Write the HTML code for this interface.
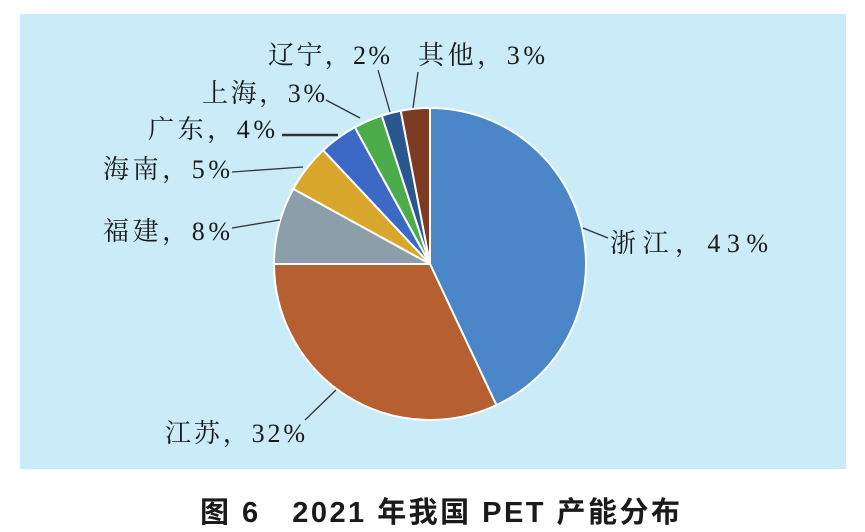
<!DOCTYPE html>
<html><head><meta charset="utf-8"><style>
body{margin:0;width:865px;height:532px;background:#fff;overflow:hidden}
svg{display:block}
.t{font-family:"Liberation Serif","Noto Serif CJK SC",serif;font-size:26px;fill:#1a1a1a}
.c{font-family:"Liberation Sans","Noto Sans CJK SC",sans-serif;font-size:29px;font-weight:bold;fill:#1a1a1a}
</style></head><body>
<svg width="865" height="532" id="s">
<rect x="20" y="14" width="826" height="455" fill="#c9ecf8"/>
<g id="pie"></g>
<g stroke="#333" stroke-width="1.3" fill="none">
<line x1="378" y1="70" x2="390" y2="112"/>
<line x1="418" y1="72" x2="413" y2="108"/>
<line x1="326" y1="100" x2="360" y2="118"/>
<line x1="282" y1="135" x2="338" y2="135" stroke-width="2.5"/>
<line x1="232" y1="172" x2="303" y2="167"/>
<line x1="232" y1="228" x2="280" y2="220"/>
<line x1="608" y1="238" x2="583" y2="228"/>
<line x1="305" y1="420" x2="336" y2="390"/>
</g>
<text class="t" x="268" y="64" textLength="122" lengthAdjust="spacing">辽宁，2%</text>
<text class="t" x="418" y="64" textLength="127" lengthAdjust="spacing">其他，3%</text>
<text class="t" x="202" y="102" textLength="123" lengthAdjust="spacing">上海，3%</text>
<text class="t" x="148" y="138" textLength="127" lengthAdjust="spacing">广东，4%</text>
<text class="t" x="103" y="178" textLength="127" lengthAdjust="spacing">海南，5%</text>
<text class="t" x="103" y="240" textLength="127" lengthAdjust="spacing">福建，8%</text>
<text class="t" x="610" y="252" textLength="158" lengthAdjust="spacing">浙江，43%</text>
<text class="t" x="165" y="442" textLength="140" lengthAdjust="spacing">江苏，32%</text>
<text class="c" x="200" y="522" textLength="480" lengthAdjust="spacing" xml:space="preserve">图 6   2021 年我国 PET 产能分布</text>
</svg>
<script>
var d=[[43,"#4a86c8"],[32,"#b65f30"],[8,"#8c9ea9"],[5,"#d8a62a"],[4,"#3c69c6"],[3,"#4cac4a"],[2,"#2b5690"],[3,"#7c3b22"]];
var cx=430,cy=264,r=156,a=0,h="";
d.forEach(function(e){var a2=a+e[0]/100*2*Math.PI;
var x1=cx+r*Math.sin(a),y1=cy-r*Math.cos(a),x2=cx+r*Math.sin(a2),y2=cy-r*Math.cos(a2);
h+='<path d="M'+cx+','+cy+'L'+x1+','+y1+'A'+r+','+r+' 0 '+(a2-a>Math.PI?1:0)+' 1 '+x2+','+y2+'Z" fill="'+e[1]+'" stroke="#fff" stroke-width="2"/>';a=a2;});
document.getElementById("pie").innerHTML=h;
</script>
</body></html>
